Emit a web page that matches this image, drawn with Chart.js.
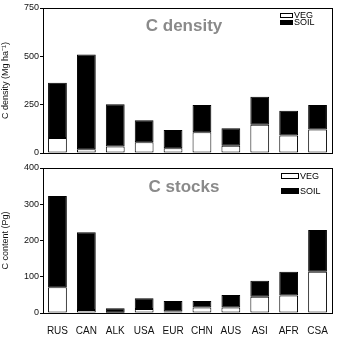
<!DOCTYPE html>
<html>
<head>
<meta charset="utf-8">
<script src="https://cdn.jsdelivr.net/npm/chart.js@4"></script>
<style>
  body { margin: 0; background: #fff; }
  #wrap { position: relative; width: 350px; height: 337px; }
  #densityChart { position: absolute; left: 0; top: 0; }
  #stocksChart { position: absolute; left: 0; top: 160px; }
</style>
</head>
<body>
<div id="wrap">
  <canvas id="densityChart" width="350" height="160"></canvas>
  <canvas id="stocksChart" width="350" height="177"></canvas>
</div>
<script>
// Regions (x axis categories)
const regions = ['RUS', 'CAN', 'ALK', 'USA', 'EUR', 'CHN', 'AUS', 'ASI', 'AFR', 'CSA'];

// C density (Mg ha-1): vegetation part and soil part (stacked)
const densityVeg  = [78, 20, 33, 55, 24, 107, 38, 146, 91, 122];
const densitySoil = [285, 490, 219, 114, 95, 141, 90, 145, 128, 126];
const densityTicks = [0, 250, 500, 750];

// C stocks (Pg): vegetation part and soil part (stacked)
const stocksVeg  = [71, 8, 1, 11, 4, 15, 15, 45, 48, 114];
const stocksSoil = [252, 215, 12, 30, 29, 18, 35, 44, 66, 115];
const stocksTicks = [0, 100, 200, 300, 400];

const FONT = 'Liberation Sans, Arial, sans-serif';

// Box round the plot area, panel title and the little legend
const panelDecor = {
    id: 'panelDecor',
    afterDraw: function(chart) {
        const ctx = chart.ctx;
        const a = chart.chartArea;
        const opt = chart.options.plugins.panelDecor;
        ctx.save();
        ctx.strokeStyle = '#000';
        ctx.lineWidth = 1;
        ctx.strokeRect(Math.round(a.left) + 0.5, Math.round(a.top) + 0.5,
                       Math.round(a.right - a.left), Math.round(a.bottom - a.top));

        // title
        ctx.fillStyle = '#8a8a8a';
        ctx.font = 'bold 17px ' + FONT;
        ctx.textAlign = 'center';
        ctx.textBaseline = 'middle';
        ctx.fillText(opt.title, opt.titleX, opt.titleY);

        // legend
        ctx.font = '9px ' + FONT;
        ctx.textAlign = 'left';
        chart.data.datasets.forEach(function(ds, i) {
            const y = opt.legY + i * opt.legGap;
            ctx.fillStyle = ds.backgroundColor;
            ctx.fillRect(opt.legX + 0.5, y + 0.5, opt.legW, opt.legH);
            ctx.strokeStyle = '#000';
            ctx.strokeRect(opt.legX + 0.5, y + 0.5, opt.legW, opt.legH);
            ctx.fillStyle = '#000';
            ctx.fillText(ds.label, opt.legX + opt.legW + 2, y + opt.legH / 2 + 1);
        });
        ctx.restore();
    }
};

function makeChart(id, veg, soil, ticks, yTitle, showX, decor) {
    const maxY = ticks[ticks.length - 1];
    const step = ticks[1] - ticks[0];
    return new Chart(document.getElementById(id), {
        type: 'bar',
        data: {
            labels: regions,
            datasets: [{
                label: 'VEG',
                data: veg,
                backgroundColor: '#ffffff',
                borderColor: '#000',
                borderWidth: 1,
                borderSkipped: false
            }, {
                label: 'SOIL',
                data: soil,
                backgroundColor: '#000000',
                borderColor: '#000',
                borderWidth: 1,
                borderSkipped: false
            }]
        },
        options: {
            responsive: false,
            animation: false,
            layout: {
                padding: { left: 0, right: 18, top: 8, bottom: showX ? 0 : 7 }
            },
            datasets: {
                bar: { categoryPercentage: 1, barPercentage: 0.65 }
            },
            scales: {
                x: {
                    stacked: true,
                    grid: { display: false },
                    border: { color: '#000', width: 1 },
                    ticks: {
                        display: showX,
                        color: '#111',
                        font: { family: FONT, size: 10 },
                        padding: 4,
                        maxRotation: 0
                    },
                    afterFit: function(s) { s.height = showX ? 24 : 0; }
                },
                y: {
                    stacked: true,
                    min: 0,
                    max: maxY,
                    grid: { drawOnChartArea: false, drawTicks: true, tickLength: 3, color: '#000' },
                    border: { color: '#000', width: 1 },
                    ticks: {
                        stepSize: step,
                        color: '#111',
                        padding: 1,
                        font: { family: FONT, size: 9 }
                    },
                    title: {
                        display: true,
                        text: yTitle,
                        color: '#111',
                        padding: { top: 0, bottom: 2 },
                        font: { family: FONT, size: 9 }
                    },
                    afterFit: function(s) { s.width = 43; }
                }
            },
            plugins: {
                legend: { display: false },
                tooltip: { enabled: false },
                panelDecor: decor
            }
        },
        plugins: [panelDecor]
    });
}

makeChart('densityChart', densityVeg, densitySoil, densityTicks,
    'C density (Mg ha\u207B\u00B9)', false,
    { title: 'C density', titleX: 184, titleY: 26, legX: 280, legY: 13, legW: 12, legH: 4, legGap: 7 });

makeChart('stocksChart', stocksVeg, stocksSoil, stocksTicks,
    'C content (Pg)', true,
    { title: 'C stocks', titleX: 184, titleY: 27, legX: 281, legY: 13, legW: 17, legH: 5, legGap: 15 });
</script>
</body>
</html>
